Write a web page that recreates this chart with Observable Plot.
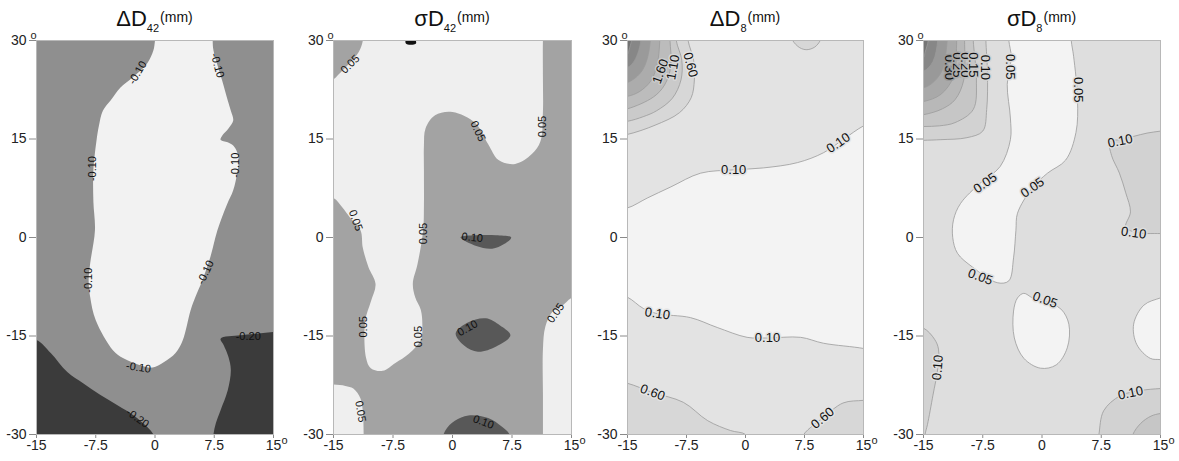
<!DOCTYPE html>
<html><head><meta charset="utf-8">
<script src="https://cdn.jsdelivr.net/npm/d3@7"></script>
<script src="https://cdn.jsdelivr.net/npm/@observablehq/plot@0.6"></script>
<style>
body{margin:0;background:#fff;font-family:"Liberation Sans",Arial,sans-serif}
#wrap{position:relative;width:1179px;height:461px;overflow:hidden;background:#fff}
.panel{position:absolute;top:0}
.title{position:absolute;top:7px;width:200px;text-align:center;font-size:22px;color:#111;white-space:nowrap;line-height:24px}
.title .s{font-size:11px;position:relative;top:6px}
.title .u{font-size:14px;position:relative;top:-4px;margin-left:1px}
[aria-label$="axis tick"] path{stroke:#8a8a8a}
</style></head><body><div id="wrap"></div>
<script>
// ---------- shared axes ----------
const xTicks = [-15, -7.5, 0, 7.5, 15];
const yTicks = [-30, -15, 0, 15, 30];

// ---------- panel titles ----------
const titleSymbols = ["\u0394", "\u03c3", "\u0394", "\u03c3"];
const titleSubs = ["42", "42", "8", "8"];

// ---------- panel 1 : ΔD42 ----------
const p1Levels = [-0.25, -0.15, -0.05];
const p1Colors = ["#3b3b3b", "#8f8f8f", "#f2f2f2"];
const p1Light = [[0.3,33],[0,30],[-0.2,28.5],[-1,26.5],[-2.8,24.4],[-4.4,22.8],[-5.6,20.9],[-6.6,19.3],[-7.1,17],[-7.4,14.8],[-7.8,10.2],[-7.8,5.5],[-7.6,1.1],[-8.2,-3.9],[-8.4,-6.5],[-8.2,-9.1],[-7.5,-12.6],[-5.3,-17.2],[-4.0,-18.4],[-1.8,-19.5],[-0.3,-19.8],[1.1,-19],[2.6,-17.6],[3.5,-15.7],[4.5,-11.1],[5.1,-9.1],[6.0,-6.5],[7.0,-3.0],[7.9,1.1],[9.1,5],[9.9,7.2],[10.4,9.8],[10.6,11.7],[10.4,13],[9.9,14.0],[9.2,14.5],[8.3,14.9],[8.5,15.5],[9.3,16.6],[9.9,17.8],[9.6,19.3],[9.2,20.9],[8.5,23.9],[7.4,28.5],[7.3,30],[7.3,33]];
const p1DarkLeft = [[-18,-15.3],[-15,-15.6],[-13.2,-17.6],[-11.1,-20.5],[-9.1,-22.2],[-6.9,-24],[-4.7,-25.6],[-2.7,-27.1],[-0.95,-28.9],[-0.2,-30],[0.3,-32],[-18,-32]];
const p1DarkRight = [[18,-14.2],[15,-14.4],[12.5,-14.7],[10.8,-14.9],[8.3,-15.4],[8.7,-16.4],[9.3,-18.2],[9.6,-20.2],[9.2,-23.3],[8.3,-26.3],[7.7,-28.3],[7.4,-30],[7.3,-32],[18,-32]];
const p1Labels = [
  [-2.2,25.1,"-0.10",-60],[7.9,26.2,"-0.10",75],[-7.9,10.5,"-0.10",-90],[10.2,11,"-0.10",-90],
  [-8.4,-6.5,"-0.10",-90],[6.4,-5.3,"-0.10",-65],[-2.1,-19.8,"-0.10",8],
  [11.8,-15.1,"-0.20",0],[-2.2,-27.5,"-0.20",35]
];

// ---------- panel 2 : σD42 ----------
const p2Levels = [0.03, 0.075, 0.12, 0.2];
const p2Colors = ["#efefef", "#a3a3a3", "#585858", "#111111"];
const p2Light = [[-17,32],[11.5,32],[11.4,30],[11.4,24],[11.4,19.2],[11.1,14.7],[10,12.7],[7.9,11.2],[5.8,11.8],[4.5,14.2],[2.9,17.4],[0,19.1],[-2.2,18.6],[-3.4,16.6],[-3.6,14],[-3.6,10],[-3.6,5],[-3.7,1.1],[-4.4,-4],[-5.0,-7],[-4.7,-9.1],[-4.0,-11],[-3.8,-13.2],[-4.0,-15.6],[-5.5,-17.7],[-7.2,-19.1],[-8.8,-20.3],[-10.3,-19.9],[-10.9,-18.3],[-11,-12.7],[-10.3,-9.8],[-9.7,-7.1],[-10.6,-4.5],[-11.3,-1.6],[-11.6,1.1],[-12.9,3.0],[-13.9,4.6],[-15,6],[-17,6.5]];
const p2Corner = [[-17,32],[-11.2,32],[-11.3,30],[-11.8,28.3],[-13.1,26.4],[-14.4,24.8],[-15,24.1],[-17,23.5]];
const p2BottomLeft = [[-17,-22.2],[-15,-22.4],[-13.5,-22.6],[-12.5,-23],[-11.6,-24.5],[-11.3,-26.5],[-11.2,-30],[-11.2,-32],[-17,-32]];
const p2BottomRight = [[17,-8.5],[15,-9.2],[13.9,-10.3],[12.6,-11.3],[11.7,-13.6],[11.4,-17],[11.4,-24],[11.4,-30],[11.4,-32],[17,-32]];
const p2Dark1 = [[1.0,0.05],[3,0.35],[5.5,0.35],[7.4,0.0],[6.5,-1.0],[5,-1.7],[3,-1.3]];
const p2Dark2 = [[0.4,-14.6],[2,-12.9],[4.2,-12.3],[6,-13.4],[7.3,-14.9],[5.5,-16.6],[3.2,-17.4],[1.5,-16.5]];
const p2Dark3 = [[-1.3,-32],[-0.9,-29.4],[0.3,-27.9],[2,-27.1],[4.5,-27.5],[6.2,-28.8],[7.2,-30],[7.5,-32]];
const p2Spot = [[-5.9,29.6],[-5.3,29.35],[-4.6,29.55],[-4.8,30.3],[-5.8,30.3]];
const p2Labels = [
  [-12.9,26.4,"0.05",-45],[3.2,16.2,"0.05",65],[11.4,16.9,"0.05",-90],[-12.2,2.6,"0.05",70],
  [-3.6,0.6,"0.05",-90],[-11.2,-13.6,"0.05",-90],[-4.3,-15.1,"0.05",-90],[13,-11.5,"0.05",-55],
  [-11.6,-26.5,"0.05",80],[2.5,0.0,"0.10",5],[1.9,-13.8,"0.10",-30],[3.9,-28.1,"0.10",20]
];

// ---------- panel 3 : ΔD8 ----------
const p3Levels = [0.05, 0.35, 0.85, 1.35, 1.85, 2.35, 2.85, 3.35, 3.85];
const p3Colors = ["#f3f3f3","#e3e3e3","#d7d7d7","#cacaca","#bcbcbc","#acacac","#9a9a9a","#878787","#727272"];
const p3Band = [[-17,4.3],[-15,4.5],[-12.5,6.0],[-9.5,7.7],[-5.7,9.8],[-1.5,10.3],[2.3,10.6],[6.6,11.4],[9.9,12.9],[12.5,15],[15,17],[17,18],[17,-17.5],[15,-16.9],[9.9,-16.1],[7,-15.2],[2.8,-15.3],[0.2,-15.2],[-3.6,-13.7],[-7,-12.2],[-11.2,-11.6],[-13,-10.8],[-15,-9.1],[-17,-8.5]];
const p3Bump = [[5.8,31],[6.0,30],[6.9,28.9],[7.8,28.6],[8.8,29.0],[9.5,30],[9.7,31]];
const p3BottomLeft = [[-17,-21.8],[-15,-22.2],[-11.8,-23.6],[-7.9,-25.1],[-4.8,-27.9],[-1.9,-29.4],[0,-30],[0.6,-31.5],[-17,-32]];
const p3BottomRight = [[7.0,-31.5],[7.4,-30],[8.6,-28.6],[9.8,-27.5],[12.4,-25.2],[15,-24.8],[17,-24.6],[17,-32]];
const p3C060 = [[-17,32],[-7.4,32],[-7.3,30],[-6.6,27],[-6.5,24],[-6.9,21.3],[-8.4,19.0],[-11.5,17.1],[-15,15.7],[-17,15.4]];
const p3C110 = [[-17,32],[-8.8,32],[-8.8,30],[-8.1,27],[-8.2,24],[-9.3,21.2],[-11.3,19.3],[-13,18.4],[-15,17.7],[-17,17.5]];
const p3C160 = [[-17,32],[-9.7,32],[-9.6,30],[-9.5,26],[-10.3,23.2],[-11.7,21.4],[-15,19.6],[-17,19.3]];
const p3C210 = [[-17,32],[-10.9,32],[-10.9,30],[-11.2,26.5],[-12.0,23.9],[-13.5,22.2],[-15,21.5],[-17,21.3]];
const p3C260 = [[-17,32],[-12.1,32],[-12.1,30],[-12.6,26.8],[-13.4,25.0],[-15,23.6],[-17,23.4]];
const p3C310 = [[-17,32],[-13.3,32],[-13.3,30],[-13.7,28],[-14.3,26.6],[-15,25.9],[-17,25.7]];
const p3C360 = [[-17,32],[-14.5,32],[-14.5,30],[-14.8,28.6],[-15,27.9],[-17,27.8]];
const p3Labels = [
  [-10.8,25.3,"1.60",-70,1.35],[-9.2,25.9,"1.10",-80,0.85],[-7.0,26.3,"0.60",75,0.35],
  [-1.5,10.3,"0.10",0,0.35],[11.8,14.4,"0.10",-35,0.35],[-11.2,-11.6,"0.10",8,0.35],
  [2.8,-15.3,"0.10",0,0.35],[-11.8,-23.6,"0.60",20,0.35],[9.8,-27.5,"0.60",-40,0.35]
];

// ---------- panel 4 : σD8 ----------
const p4Levels = [0.025, 0.075, 0.125, 0.175, 0.225, 0.275, 0.325, 0.375, 0.425];
const p4Colors = ["#f3f3f3","#dedede","#d2d2d2","#c6c6c6","#b8b8b8","#a9a9a9","#999999","#878787","#757575"];
const p4Band = [[-4.3,33],[-4.2,30],[-3.9,27.5],[-4.4,23.3],[-4.0,18.2],[-4.0,14.9],[-5.3,10.8],[-7.8,8.3],[-10.3,5.2],[-11.2,2.7],[-11.3,0],[-10.7,-2.4],[-8.8,-4.5],[-5.6,-6.9],[-4.2,-6.6],[-3.6,-3.1],[-3.3,1.1],[-3.1,3.7],[-1.2,7.6],[0.7,9.8],[3.0,11.8],[4.3,16],[4.5,21],[4.0,27.6],[3.7,30],[3.6,33]];
const p4Blob = [[-2.3,-8.5],[-1.2,-9.2],[0.3,-9.7],[2.4,-10.9],[3.4,-13.2],[3.2,-16.8],[1.8,-19.4],[-0.2,-19.9],[-2.3,-18.4],[-3.5,-15.3],[-3.6,-11.2],[-3.1,-9.2]];
const p4RightBlob = [[17,-8.5],[15,-9.2],[12.9,-10.3],[11.6,-13.2],[12.0,-16.3],[13.7,-18.4],[15,-18.6],[17,-19]];
const p4RightMid = [[17,16.5],[15,16.2],[13.3,15.9],[11.6,15.4],[9.9,14.9],[8.6,14.6],[8.8,12.5],[9.8,9.8],[10.6,6.8],[11.2,3.9],[10.6,1.6],[11.8,0.8],[15,0.6],[17,0.6]];
const p4BottomRight = [[6.9,-32],[7.2,-30],[7.8,-26.4],[9.9,-24.1],[12.5,-23.3],[15,-23],[17,-22.9],[17,-32]];
const p4BottomRightInner = [[11.2,-32],[11.5,-30],[12.5,-28.3],[13.8,-27.2],[15,-26.8],[17,-26.6],[17,-32]];
const p4LeftStrip = [[-17,-13.5],[-15,-13.8],[-13.6,-15.5],[-13.1,-17.0],[-13.2,-20],[-13.8,-24],[-14.5,-28.5],[-14.8,-30],[-14.9,-32],[-17,-32]];
const p4K10 = [[-17,32],[-7.1,32],[-7.1,30],[-6.9,25],[-7.0,19.5],[-7.5,16.2],[-9.5,15.2],[-12.8,14.9],[-15,14.8],[-17,14.7]];
const p4K15 = [[-17,32],[-8.7,32],[-8.7,30],[-8.3,24],[-8.7,19.5],[-11,17.5],[-13,17.0],[-15,16.9],[-17,16.8]];
const p4K20 = [[-17,32],[-9.8,32],[-9.8,30],[-9.9,24],[-11,21],[-12.6,19.6],[-15,18.7],[-17,18.5]];
const p4K25 = [[-17,32],[-10.8,32],[-10.8,30],[-11.2,24.5],[-12.8,21.8],[-15,20.7],[-17,20.5]];
const p4K30 = [[-17,32],[-12,32],[-12,30],[-12.7,25.3],[-14,23.4],[-15,22.8],[-17,22.6]];
const p4K35 = [[-17,32],[-13.2,32],[-13.2,30],[-13.8,26.8],[-15,25.3],[-17,25.1]];
const p4K40 = [[-17,32],[-14.4,32],[-14.4,30],[-14.8,28.2],[-15,27.4],[-17,27.3]];
const p4Labels = [
  [-11.8,25.9,"0.30",90,0.325],[-10.7,26.3,"0.25",90,0.275],[-9.7,26.3,"0.20",90,0.225],
  [-8.7,26.3,"0.15",90,0.175],[-7.2,25.9,"0.10",90,0.125],[-4.0,26,"0.05",90,0.075],
  [4.6,22.5,"0.05",90,0.075],[-7.2,8.3,"0.05",-35,0.075],[-1.2,7.6,"0.05",-35,0.075],
  [9.9,14.7,"0.10",-12,0.075],[11.6,0.7,"0.10",8,0.075],[-7.8,-6.0,"0.05",20,0.075],
  [0.4,-9.5,"0.05",20,0.075],[-13.2,-19.8,"0.10",-85,0.075],[11.2,-23.7,"0.10",-12,0.075]
];

// ---------- build ----------
function rows(regions) {
  return regions.flatMap(([level, pts], id) => pts.map(([x, y]) => ({id, level, x, y})));
}
function labelRows(list) {
  return list.map(([x, y, text, rotate, bg]) => ({x, y, text, rotate, bg}));
}

const panels = [
  {left: 0, mr: 19, levels: p1Levels, colors: p1Colors, bg: -0.15, line: null, fs: 11, halo: false,
   regions: [[-0.05, p1Light], [-0.25, p1DarkLeft], [-0.25, p1DarkRight]], labels: p1Labels},
  {left: 297, mr: 18, levels: p2Levels, colors: p2Colors, bg: 0.075, line: null, fs: 11, halo: false,
   regions: [[0.03, p2Light], [0.075, p2Corner], [0.03, p2BottomLeft], [0.03, p2BottomRight],
             [0.12, p2Dark1], [0.12, p2Dark2], [0.12, p2Dark3], [0.2, p2Spot]], labels: p2Labels},
  {left: 591, mr: 20, levels: p3Levels, colors: p3Colors, bg: 0.35, line: "#9a9a9a", fs: 13, halo: true,
   regions: [[0.05, p3Band], [0.85, p3Bump], [0.85, p3BottomLeft], [0.85, p3BottomRight],
             [0.85, p3C060], [1.35, p3C110], [1.85, p3C160], [2.35, p3C210], [2.85, p3C260], [3.35, p3C310], [3.85, p3C360]],
   labels: p3Labels},
  {left: 887, mr: 19, levels: p4Levels, colors: p4Colors, bg: 0.075, line: "#9a9a9a", fs: 13, halo: true,
   regions: [[0.025, p4Band], [0.025, p4Blob], [0.025, p4RightBlob], [0.125, p4RightMid],
             [0.125, p4BottomRight], [0.175, p4BottomRightInner], [0.125, p4LeftStrip],
             [0.125, p4K10], [0.175, p4K15], [0.225, p4K20], [0.275, p4K25], [0.325, p4K30], [0.375, p4K35], [0.425, p4K40]],
   labels: p4Labels}
];

const wrap = document.getElementById("wrap");
panels.forEach((p, i) => {
  const W = 292, ML = 36;
  const bgColor = p.colors[p.levels.indexOf(p.bg)];
  const chart = Plot.plot({
    width: W, height: 461,
    marginLeft: ML, marginRight: p.mr, marginTop: 40, marginBottom: 27,
    style: {fontFamily: "'Liberation Sans', Arial, sans-serif", fontSize: "14px", color: "#222", background: "transparent", overflow: "visible"},
    x: {domain: [-15, 15], ticks: xTicks, tickFormat: d => String(d), label: null, tickSize: 4, tickPadding: 2},
    y: {domain: [-30, 30], ticks: yTicks, tickFormat: d => String(d), label: null, tickSize: 7, tickPadding: 3},
    color: {type: "ordinal", domain: p.levels, range: p.colors},
    marks: [
      Plot.frame({fill: bgColor}),
      Plot.line(rows(p.regions), {
        x: "x", y: "y", z: "id", fill: "level",
        stroke: p.line || "none", strokeWidth: 0.8,
        curve: "catmull-rom-closed", clip: true
      }),
      Plot.frame({stroke: "#b8b8b8", strokeWidth: 1}),
      Plot.text(labelRows(p.labels), {
        x: "x", y: "y", text: "text", rotate: "rotate",
        fill: "#111", fontSize: p.fs,
        ...(p.halo ? {stroke: "bg", strokeWidth: 3, paintOrder: "stroke"} : {})
      }),
      Plot.text(["o"], {frameAnchor: "top-left", dx: -6, dy: -9, fontSize: 11, fill: "#222"}),
      Plot.text(["o"], {frameAnchor: "bottom-right", dx: 14, dy: 9, fontSize: 11, fill: "#222"})
    ]
  });
  chart.classList.add("panel");
  chart.style.left = p.left + "px";
  wrap.appendChild(chart);

  const plotLeft = p.left + ML;
  const plotRight = p.left + W - p.mr;
  const t = document.createElement("div");
  t.className = "title";
  t.style.left = ((plotLeft + plotRight) / 2 - 100) + "px";
  t.innerHTML = titleSymbols[i] + "D<span class='s'>" + titleSubs[i] + "</span><span class='u'>(mm)</span>";
  wrap.appendChild(t);
});
</script>
</body></html>
